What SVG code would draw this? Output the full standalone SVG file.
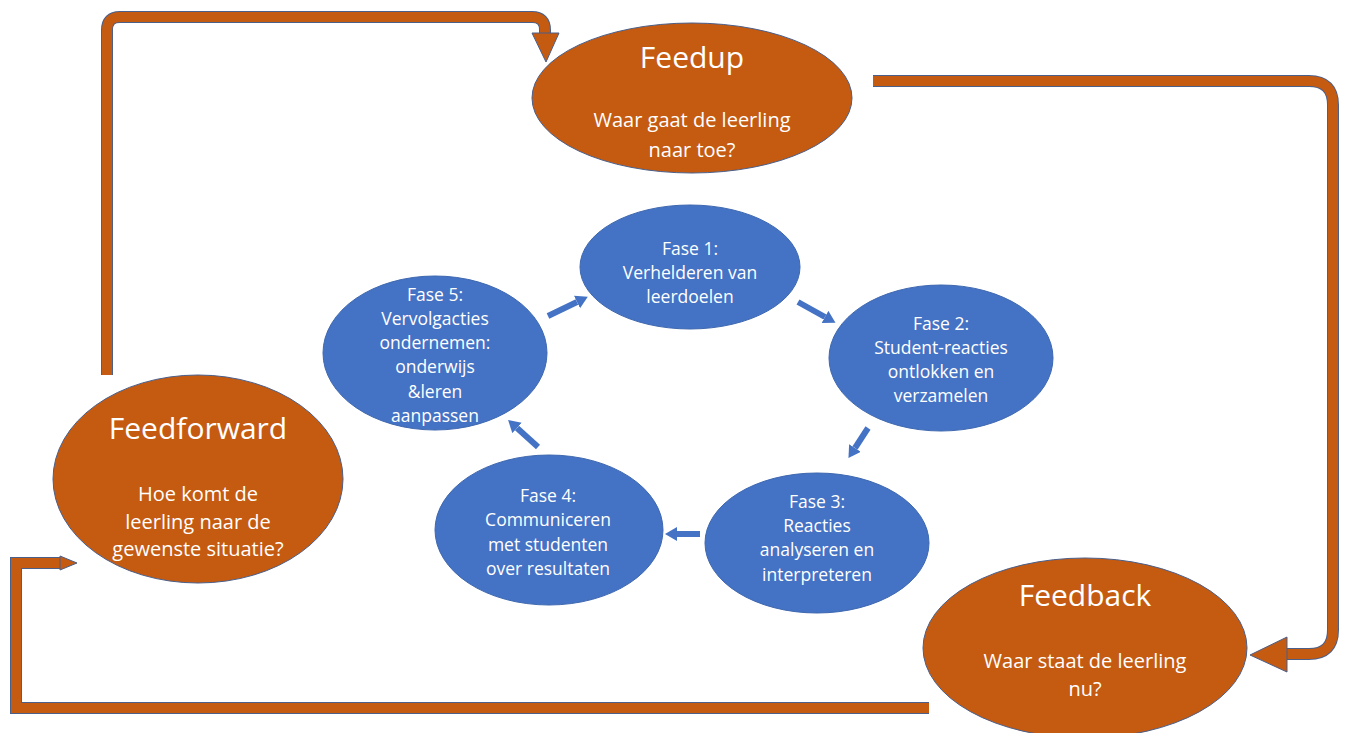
<svg xmlns="http://www.w3.org/2000/svg" width="1347" height="733" viewBox="0 0 1347 733">
<style>
.o{fill:#C55A11;stroke:#4A5F8A;stroke-width:1}
.b{fill:#4472C4;stroke:#3E68B0;stroke-width:1}
.band{fill:none;stroke:#4A5F8A;stroke-width:12}
.bandi{fill:none;stroke:#C55A11;stroke-width:10}
.head{fill:#C55A11;stroke:#4A5F8A;stroke-width:1}
.ba{stroke:#4472C4;stroke-width:6;fill:none}
text{font-family:"Open Sans","Noto Sans",sans-serif;fill:#fff;text-anchor:middle}
.t{font-size:30px}
.s{font-size:20px}
.f{font-size:17.5px}
</style>
<defs>
<marker id="ah" markerUnits="userSpaceOnUse" markerWidth="14" markerHeight="16" refX="0" refY="7" orient="auto">
<path d="M0,0 L12,7 L0,14 z" fill="#4472C4"/>
</marker>
</defs>
<g id="connectors">
<path class="band" d="M107,375 V30 Q107,17 120,17 H532 Q545,17 545,30 V34"/>
<path class="bandi" d="M107,375 V30 Q107,17 120,17 H532 Q545,17 545,30 V34"/>
<polygon class="head" points="532,33 559,33 546,62"/>
<path class="band" d="M873,81 H1309 Q1333,81 1333,105 V630 Q1333,654 1309,654 H1287"/>
<path class="bandi" d="M873,81 H1309 Q1333,81 1333,105 V630 Q1333,654 1309,654 H1286"/>
<polygon class="head" points="1287,637 1287,672 1250,655"/>
<path class="band" d="M929,708 H16 V563 H61"/>
<path class="bandi" d="M929,708 H16 V563 H62"/>
<polygon class="head" points="60,556 60,570 77,563"/>
<line class="ba" x1="548" y1="316" x2="577" y2="302" marker-end="url(#ah)"/>
<line class="ba" x1="798" y1="302" x2="825" y2="317" marker-end="url(#ah)"/>
<line class="ba" x1="868" y1="428" x2="855" y2="448" marker-end="url(#ah)"/>
<line class="ba" x1="700" y1="534" x2="677" y2="534" marker-end="url(#ah)"/>
<line class="ba" x1="538" y1="447" x2="517" y2="428" marker-end="url(#ah)"/>
</g>
<g id="feedup">
<ellipse class="o" cx="692" cy="98" rx="160" ry="75"/>
<text class="t" x="692" y="68">Feedup</text>
<text class="s" x="692" y="127">Waar gaat de leerling</text>
<text class="s" x="692" y="157">naar toe?</text>
</g>
<g id="feedforward">
<ellipse class="o" cx="198" cy="479" rx="145" ry="104"/>
<text class="t" x="198" y="439">Feedforward</text>
<text class="s" x="198" y="501">Hoe komt de</text>
<text class="s" x="198" y="529">leerling naar de</text>
<text class="s" x="198" y="556">gewenste situatie?</text>
</g>
<g id="feedback">
<ellipse class="o" cx="1085" cy="648" rx="162" ry="90"/>
<text class="t" x="1085" y="606">Feedback</text>
<text class="s" x="1085" y="668">Waar staat de leerling</text>
<text class="s" x="1085" y="696">nu?</text>
</g>
<g id="fase1">
<ellipse class="b" cx="690" cy="267" rx="110" ry="62"/>
<text class="f" x="690" y="255">Fase 1:</text>
<text class="f" x="690" y="279">Verhelderen van</text>
<text class="f" x="690" y="303">leerdoelen</text>
</g>
<g id="fase2">
<ellipse class="b" cx="941" cy="358" rx="112" ry="73"/>
<text class="f" x="941" y="330">Fase 2:</text>
<text class="f" x="941" y="354">Student-reacties</text>
<text class="f" x="941" y="378">ontlokken en</text>
<text class="f" x="941" y="402">verzamelen</text>
</g>
<g id="fase3">
<ellipse class="b" cx="817" cy="543" rx="112" ry="70"/>
<text class="f" x="817" y="508">Fase 3:</text>
<text class="f" x="817" y="532">Reacties</text>
<text class="f" x="817" y="556">analyseren en</text>
<text class="f" x="817" y="581">interpreteren</text>
</g>
<g id="fase4">
<ellipse class="b" cx="549" cy="530" rx="114" ry="75"/>
<text class="f" x="548" y="502">Fase 4:</text>
<text class="f" x="548" y="526">Communiceren</text>
<text class="f" x="548" y="551">met studenten</text>
<text class="f" x="548" y="575">over resultaten</text>
</g>
<g id="fase5">
<ellipse class="b" cx="435" cy="353" rx="112" ry="77"/>
<text class="f" x="435" y="301">Fase 5:</text>
<text class="f" x="435" y="325">Vervolgacties</text>
<text class="f" x="435" y="349">ondernemen:</text>
<text class="f" x="435" y="373">onderwijs</text>
<text class="f" x="435" y="398">&amp;leren</text>
<text class="f" x="435" y="422">aanpassen</text>
</g>
</svg>
